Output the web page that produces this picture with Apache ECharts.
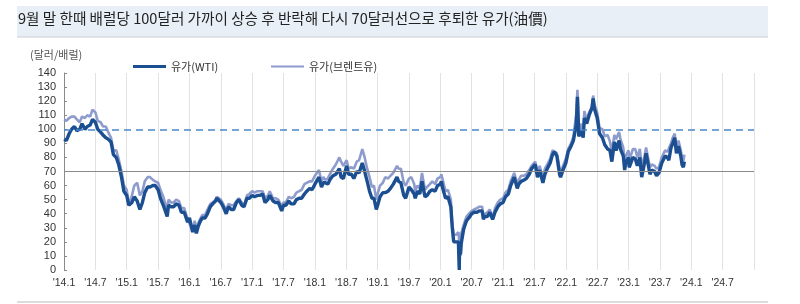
<!DOCTYPE html>
<html><head><meta charset="utf-8">
<script src="https://cdn.jsdelivr.net/npm/echarts@6/dist/echarts.min.js"></script>
<style>html,body{margin:0;padding:0;background:#fff}#c{width:800px;height:304px}</style>
</head><body><div id="c"></div>
<script>
const titleText = '9월 말 한때 배럴당 100달러 가까이 상승 후 반락해 다시 70달러선으로 후퇴한 유가(油價)';
const unitText = '(달러/배럴)';
const seriesNames = ['유가(WTI)', '유가(브렌트유)'];
const refLevels = [70, 100];

const dates = [
 // 2014
 '2014-01-02','2014-01-15','2014-02-01','2014-02-15','2014-03-01','2014-03-15','2014-04-01','2014-04-15','2014-05-01','2014-05-15','2014-06-01','2014-06-15','2014-07-01','2014-07-15','2014-08-01','2014-08-15','2014-09-01','2014-09-15','2014-10-01','2014-10-15','2014-11-01','2014-11-15','2014-12-01','2014-12-15',
 // 2015
 '2015-01-01','2015-01-13','2015-02-01','2015-02-15','2015-03-01','2015-03-17','2015-04-01','2015-04-15','2015-05-01','2015-05-15','2015-06-01','2015-06-15','2015-07-01','2015-07-15','2015-08-01','2015-08-24','2015-09-01','2015-09-15','2015-10-01','2015-10-15','2015-11-01','2015-11-15','2015-12-01','2015-12-21',
 // 2016
 '2016-01-01','2016-01-20','2016-02-01','2016-02-11','2016-02-22','2016-03-01','2016-03-15','2016-04-01','2016-04-15','2016-05-01','2016-05-15','2016-06-01','2016-06-08','2016-07-01','2016-07-15','2016-08-02','2016-08-15','2016-09-01','2016-09-15','2016-10-01','2016-10-15','2016-11-01','2016-11-15','2016-12-01','2016-12-15',
 // 2017
 '2017-01-01','2017-01-15','2017-02-01','2017-02-15','2017-03-01','2017-03-15','2017-04-01','2017-04-12','2017-05-01','2017-05-15','2017-06-01','2017-06-21','2017-07-01','2017-07-15','2017-08-01','2017-08-15','2017-09-01','2017-09-15','2017-10-01','2017-10-15','2017-11-01','2017-11-15','2017-12-01','2017-12-15',
 // 2018
 '2018-01-01','2018-01-25','2018-02-09','2018-02-20','2018-03-01','2018-03-15','2018-04-01','2018-04-15','2018-05-01','2018-05-22','2018-06-01','2018-06-15','2018-07-03','2018-07-15','2018-08-01','2018-08-15','2018-09-01','2018-09-15','2018-10-03','2018-10-15','2018-11-01','2018-11-15','2018-11-29','2018-12-10','2018-12-24',
 // 2019
 '2019-01-01','2019-01-15','2019-02-01','2019-02-15','2019-03-01','2019-03-15','2019-04-01','2019-04-23','2019-05-01','2019-05-15','2019-06-01','2019-06-12','2019-07-01','2019-07-15','2019-08-01','2019-08-07','2019-08-20','2019-09-03','2019-09-16','2019-10-03','2019-10-15','2019-11-01','2019-11-15','2019-12-01','2019-12-15',
 // 2020
 '2020-01-01','2020-01-07','2020-01-15','2020-02-01','2020-02-15','2020-03-01','2020-03-09','2020-03-18','2020-04-01','2020-04-15','2020-04-20','2020-04-21','2020-04-28','2020-05-01','2020-05-15','2020-06-01','2020-06-15','2020-07-01','2020-07-15','2020-08-01','2020-08-15','2020-09-01','2020-09-08','2020-09-15','2020-10-01','2020-10-15','2020-11-01','2020-11-15','2020-12-01','2020-12-15',
 // 2021
 '2021-01-01','2021-01-15','2021-02-01','2021-02-15','2021-03-05','2021-03-15','2021-03-23','2021-04-01','2021-04-15','2021-05-01','2021-05-15','2021-06-01','2021-06-15','2021-07-06','2021-07-19','2021-08-01','2021-08-20','2021-09-01','2021-09-15','2021-10-01','2021-10-15','2021-10-26','2021-11-10','2021-11-26','2021-12-01','2021-12-15',
 // 2022
 '2022-01-01','2022-01-15','2022-02-01','2022-02-15','2022-03-01','2022-03-08','2022-03-16','2022-04-01','2022-04-11','2022-04-18','2022-05-01','2022-05-15','2022-06-01','2022-06-08','2022-06-15','2022-07-01','2022-07-15','2022-08-01','2022-08-15','2022-09-01','2022-09-15','2022-09-26','2022-10-10','2022-10-20','2022-11-07','2022-11-15','2022-12-01','2022-12-09','2022-12-15',
 // 2023
 '2023-01-01','2023-01-05','2023-01-27','2023-02-10','2023-02-22','2023-03-06','2023-03-17','2023-04-01','2023-04-12','2023-05-04','2023-05-15','2023-06-01','2023-06-12','2023-06-26','2023-07-12','2023-08-01','2023-08-15','2023-08-23','2023-09-05','2023-09-15','2023-09-27','2023-10-06','2023-10-18','2023-11-01','2023-11-08','2023-11-16','2023-11-22'
];

const wti = [
 93,92,97,100,102,99,100,104,100,102,103,107,105,100,98,96,94,93,91,82,80,75,66,56,
 53,46,48,52,49,43,48,55,59,59,60,60,57,51,46,38,46,45,45,47,46,41,41,34,
 37,27,32,26,31,34,37,37,40,45,47,49,51,48,45,40,45,43,43,48,50,46,45,51,51,
 53,52,53,53,54,48,50,53,49,48,48,42,46,46,49,47,47,50,51,51,54,56,58,57,
 61,66,59,62,62,61,65,67,68,72,66,65,74,68,68,65,70,69,76,71,63,56,51,51,43,
 46,52,55,55,56,58,61,66,63,62,53,51,59,57,54,51,56,54,63,52,53,56,57,56,60,
 61,63,58,51,52,45,31,20,20,20,0,10,12,19,29,35,37,40,41,41,42,42,36,38,38,41,36,41,45,47,
 48,52,54,60,66,65,58,61,63,64,65,68,72,75,66,71,62,68,72,76,82,84,81,68,66,71,
 76,84,88,92,103,123,95,99,94,108,104,110,115,122,115,108,97,94,89,86,85,77,91,85,92,86,81,71,76,
 80,73,80,79,74,80,66,75,83,68,71,70,67,69,76,81,80,78,87,90,94,83,88,81,75,73,77
];

const brent = [
 107,106,108,109,109,107,105,109,108,110,109,114,112,106,105,102,102,98,94,85,85,79,70,60,
 57,46,53,60,62,53,56,63,66,66,64,63,62,57,52,43,50,48,48,50,49,44,44,36,
 37,28,35,30,33,36,39,39,43,47,48,50,52,50,47,42,47,46,46,49,51,48,46,53,54,
 56,55,56,56,56,51,53,56,51,51,50,45,48,48,52,51,52,55,56,57,61,62,63,63,
 67,71,63,66,64,65,69,72,75,80,77,74,78,72,73,72,77,78,86,81,72,66,59,60,50,
 54,60,62,66,65,67,69,74,72,72,62,60,65,66,61,56,60,58,69,57,59,61,63,61,65,
 66,68,64,56,57,50,34,25,25,27,26,19,20,26,32,38,40,42,43,44,45,45,39,40,41,43,37,44,48,50,
 51,55,57,63,69,69,61,64,67,67,68,71,74,77,69,74,65,72,75,79,85,86,83,72,69,74,
 79,86,90,95,111,128,98,104,98,113,106,112,116,124,118,112,101,100,95,96,91,84,96,93,98,93,87,76,81,
 85,78,86,86,80,86,73,80,87,73,75,74,72,73,80,85,84,83,90,94,97,84,92,85,80,77,82
];

// month index from Jan 2014
function toX(d){const p=d.split('-').map(Number);return (p[0]-2014)*12+(p[1]-1)+(p[2]-1)/31;}
function xLabel(v){ if(v>=132) return ''; const y=14+Math.floor(v/12); const m=(v%12)+1; return "'"+y+'.'+m; }

const font = '"Liberation Sans", Arial, "Noto Sans CJK KR", sans-serif';
const wtiData = dates.map((d,i)=>[toX(d), wti[i]]);
const brentData = dates.map((d,i)=>[toX(d), brent[i]]);

const chart = echarts.init(document.getElementById('c'), null, {renderer:'canvas'});
chart.setOption({
  animation:false,
  backgroundColor:'#fff',
  grid:{left:64,right:46,top:73,bottom:34},
  legend:[
    {data:[seriesNames[0]], left:133, top:61, icon:'rect', itemWidth:33, itemHeight:3, padding:0,
     textStyle:{fontSize:11,color:'#333',fontFamily:'"Noto Sans CJK KR", sans-serif'}},
    {data:[seriesNames[1]], left:271, top:61, icon:'rect', itemWidth:33, itemHeight:2, padding:0,
     textStyle:{fontSize:11,color:'#333',fontFamily:'"Noto Sans CJK KR", sans-serif'}}
  ],
  xAxis:{type:'value', min:0, max:132, interval:6,
    axisLine:{show:false}, axisTick:{show:false},
    axisLabel:{formatter:xLabel, color:'#333', fontSize:10.5, margin:8, fontFamily:font},
    splitLine:{show:true, lineStyle:{color:'#e2e2e2', width:1}}},
  yAxis:{type:'value', min:0, max:140, interval:10,
    axisLine:{show:true, lineStyle:{color:'#8a8a8a'}},
    axisTick:{show:true, inside:true, length:3, lineStyle:{color:'#8a8a8a'}},
    axisLabel:{color:'#333', fontSize:11, margin:8, fontFamily:font},
    splitLine:{show:false}},
  series:[
    {name:seriesNames[1], type:'line', data:brentData, showSymbol:false, symbol:'none', z:3,
     lineStyle:{color:'#8d9ccd', width:2.6}, itemStyle:{color:'#8d9ccd'}, clip:true},
    {name:seriesNames[0], type:'line', data:wtiData, showSymbol:false, symbol:'none', z:4,
     lineStyle:{color:'#1b4f91', width:3.4}, itemStyle:{color:'#1b4f91'}, clip:true,
     markLine:{silent:true, symbol:'none', label:{show:false}, animation:false,
       data:[
         {yAxis:refLevels[0], lineStyle:{color:'#8a8a8a', type:'solid', width:1}},
         {yAxis:refLevels[1], lineStyle:{color:'#4a86c8', type:[7,5], width:1.5}}
       ]}}
  ],
  graphic:[
    {type:'rect', left:17, top:6, shape:{width:751, height:31}, style:{fill:'#e9eff7'}, z:-1},
    {type:'line', shape:{x1:17,y1:37,x2:768,y2:37}, style:{stroke:'#c9cdd3', lineWidth:1}},
    {type:'text', left:18, top:11, style:{text:titleText, fill:'#222', font:'14.6px "Noto Sans CJK KR", sans-serif'}},
    {type:'text', left:30, top:49, style:{text:unitText, fill:'#555', font:'11px "Noto Sans CJK KR", sans-serif'}},
    {type:'line', shape:{x1:17,y1:302,x2:768,y2:302}, style:{stroke:'#dcdcdc', lineWidth:2}}
  ]
});
</script></body></html>
